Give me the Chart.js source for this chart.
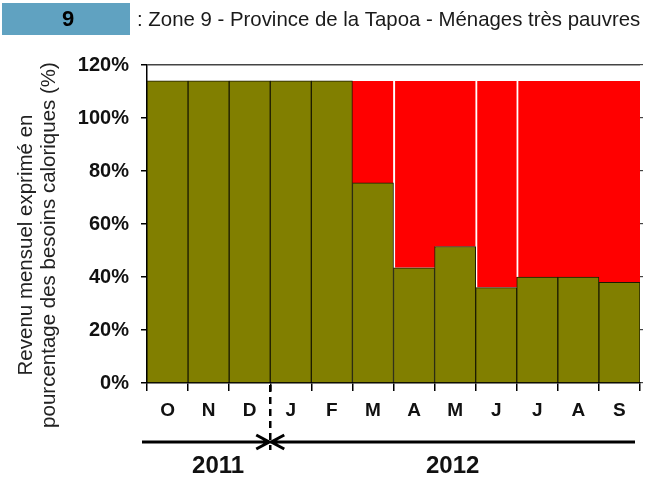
<!DOCTYPE html>
<html lang="fr">
<head>
<meta charset="utf-8">
<title>Zone 9 - Province de la Tapoa</title>
<script src="https://cdn.jsdelivr.net/npm/chart.js@4.4.1/dist/chart.umd.min.js"></script>
<style>
  body { margin: 0; background: #fff; }
  canvas { display: block; }
</style>
</head>
<body>
<canvas id="graphique" width="654" height="484"></canvas>
<script>
// Donnees
const MOIS = ['O', 'N', 'D', 'J', 'F', 'M', 'A', 'M', 'J', 'J', 'A', 'S'];
const REVENU = [114, 114, 114, 114, 114, 75.5, 43.5, 51.5, 36, 40, 40, 38];
const BESOIN = [114, 114, 114, 114, 114, 114, 114, 114, 114, 114, 114, 114];
const ANNEES = ['2011', '2012'];
const Y_MIN = 0;
const Y_MAX = 120;
const Y_PAS = 20;

const NUMERO_ZONE = '9';
const TITRE = ': Zone 9 - Province de la Tapoa - Ménages très pauvres';
const TITRE_AXE_Y = ['Revenu mensuel exprimé en', 'pourcentage des besoins caloriques (%)'];

const POLICE = '"Liberation Sans", Arial, sans-serif';
Chart.defaults.font.family = POLICE;

// deficit : barre flottante entre le revenu et le besoin
let deficit = [];
for (let i = 0; i < MOIS.length; i++) {
  deficit.push(REVENU[i] < BESOIN[i] ? [REVENU[i], BESOIN[i]] : null);
}

// traits blancs a gauche de certaines barres rouges
const traitsBlancs = [6, 8, 9];

// entete, titre de l'axe Y, fleches des annees
const decor = {
  id: 'decor',
  afterDraw(chart) {
    const ctx = chart.ctx;
    const x = chart.scales.x;
    const zone = chart.chartArea;
    const coupure = (x.getPixelForValue(2) + x.getPixelForValue(3)) / 2;
    const yFleche = 442;

    ctx.save();

    //Entete
    ctx.fillStyle = '#60a2c1';
    ctx.fillRect(2, 3, 128, 32);
    ctx.fillStyle = '#000';
    ctx.textBaseline = 'middle';
    ctx.textAlign = 'center';
    ctx.font = 'bold 22px ' + POLICE;
    ctx.fillText(NUMERO_ZONE, 68, 20);
    ctx.textAlign = 'left';
    ctx.font = '20.4px ' + POLICE;
    ctx.fillStyle = '#1a1a1a';
    ctx.fillText(TITRE, 137, 20);

    //Titre axe Y
    ctx.save();
    ctx.translate(26, 245);
    ctx.rotate(-Math.PI / 2);
    ctx.textAlign = 'center';
    ctx.fillStyle = '#222';
    ctx.font = '20.5px ' + POLICE;
    ctx.fillText(TITRE_AXE_Y[0], 0, 0);
    ctx.fillText(TITRE_AXE_Y[1], 0, 23);
    ctx.restore();

    //Ligne pointillee entre D et J
    ctx.strokeStyle = '#000';
    ctx.lineWidth = 2.5;
    ctx.setLineDash([7, 5]);
    ctx.beginPath();
    ctx.moveTo(coupure, zone.bottom + 2);
    ctx.lineTo(coupure, yFleche + 8);
    ctx.stroke();
    ctx.setLineDash([]);

    //Fleches
    ctx.lineWidth = 3;
    ctx.beginPath();
    ctx.moveTo(zone.left - 5, yFleche);
    ctx.lineTo(zone.right - 5, yFleche);
    ctx.moveTo(coupure - 14, yFleche - 7);
    ctx.lineTo(coupure - 1, yFleche);
    ctx.lineTo(coupure - 14, yFleche + 7);
    ctx.moveTo(coupure + 14, yFleche - 7);
    ctx.lineTo(coupure + 1, yFleche);
    ctx.lineTo(coupure + 14, yFleche + 7);
    ctx.stroke();

    //Annees
    ctx.fillStyle = '#111';
    ctx.textAlign = 'center';
    ctx.font = 'bold 24px ' + POLICE;
    ctx.fillText(ANNEES[0], (zone.left - 5 + coupure) / 2 + 12, 466);
    ctx.fillText(ANNEES[1], (coupure + zone.right - 5) / 2, 466);

    ctx.restore();
  }
};

const ctx = document.getElementById('graphique').getContext('2d');

const graphique = new Chart(ctx, {
  type: 'bar',
  data: {
    labels: MOIS,
    datasets: [
      {
        label: 'Revenu',
        data: REVENU,
        backgroundColor: '#817f00',
        borderColor: '#1c1c00',
        borderWidth: 1,
        borderSkipped: 'bottom',
        grouped: false,
        categoryPercentage: 1,
        barPercentage: 1
      },
      {
        label: 'Deficit',
        data: deficit,
        backgroundColor: '#ff0000',
        borderColor: '#ffffff',
        borderWidth: function (c) {
          return traitsBlancs.includes(c.dataIndex) ? { left: 2, top: 0, right: 0, bottom: 0 } : 0;
        },
        borderSkipped: false,
        inflateAmount: 0,
        grouped: false,
        categoryPercentage: 1,
        barPercentage: 1.02
      }
    ]
  },
  options: {
    responsive: false,
    animation: false,
    layout: { padding: { top: 65, left: 0, right: 0, bottom: 0 } },
    plugins: {
      legend: { display: false },
      tooltip: { enabled: false }
    },
    scales: {
      x: {
        offset: true,
        grid: { offset: true, drawOnChartArea: false, tickLength: 8, tickColor: '#000', lineWidth: 1.5 },
        border: { color: '#000', width: 1.5 },
        ticks: { color: '#111', font: { size: 19, weight: 'bold' }, padding: 8 },
        afterFit: function (s) { s.height = 101; }
      },
      y: {
        min: Y_MIN,
        max: Y_MAX,
        ticks: {
          stepSize: Y_PAS,
          color: '#111',
          font: { size: 20, weight: 'bold' },
          padding: 12,
          callback: function (v) { return v + '%'; }
        },
        grid: {
          drawOnChartArea: true,
          color: function (c) { return c.tick && c.tick.value === Y_MAX ? '#444' : 'rgba(0,0,0,0)'; },
          tickColor: '#000',
          tickLength: 6,
          lineWidth: 1.5
        },
        border: { color: '#000', width: 1.5 },
        afterFit: function (s) { s.width = 147; }
      },
      y2: {
        position: 'right',
        min: Y_MIN,
        max: Y_MAX,
        ticks: { display: false, stepSize: Y_PAS },
        grid: { drawOnChartArea: false, tickLength: 3, tickColor: '#444', lineWidth: 1.2 },
        border: { display: false },
        afterFit: function (s) { s.width = 14; }
      }
    }
  },
  plugins: [decor]
});
</script>
</body>
</html>
